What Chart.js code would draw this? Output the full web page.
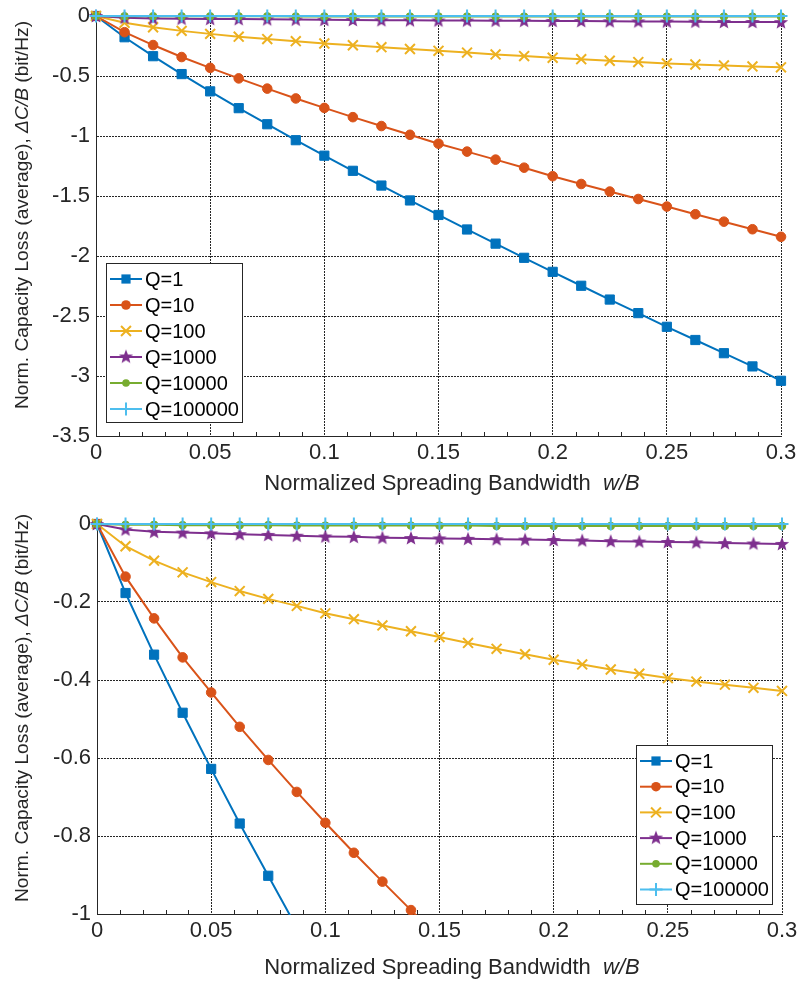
<!DOCTYPE html>
<html>
<head>
<meta charset="utf-8">
<script src="https://cdn.jsdelivr.net/npm/chart.js@4.4.0/dist/chart.umd.min.js"></script>
<style>
  body { margin: 0; background: #fff; }
  .box { position: absolute; left: 0; }
</style>
</head>
<body>
<div class="box" style="top:0;width:798px;height:500px"><canvas id="topChart" width="798" height="500"></canvas></div>
<div class="box" style="top:500px;width:798px;height:483px"><canvas id="bottomChart" width="798" height="483"></canvas></div>
<script>
// Normalized spreading bandwidth w/B
const xValues = [0, 0.0125, 0.025, 0.0375, 0.05, 0.0625, 0.075, 0.0875, 0.1, 0.1125, 0.125, 0.1375,
    0.15, 0.1625, 0.175, 0.1875, 0.2, 0.2125, 0.225, 0.2375, 0.25, 0.2625, 0.275, 0.2875, 0.3];

// Capacity loss per Q
const q1 = [0, -0.177, -0.335, -0.484, -0.628, -0.768, -0.902, -1.035, -1.164, -1.29, -1.413, -1.537,
    -1.658, -1.779, -1.897, -2.015, -2.132, -2.248, -2.363, -2.476, -2.59, -2.70, -2.81, -2.92, -3.04];
const q10 = [0, -0.135, -0.242, -0.342, -0.432, -0.52, -0.605, -0.687, -0.766, -0.843, -0.917, -0.99,
    -1.064, -1.13, -1.197, -1.264, -1.335, -1.4, -1.463, -1.525, -1.588, -1.652, -1.714, -1.777, -1.84];
const q100 = [0, -0.057, -0.094, -0.124, -0.149, -0.172, -0.192, -0.21, -0.229, -0.244, -0.26, -0.275,
    -0.29, -0.305, -0.32, -0.334, -0.348, -0.36, -0.373, -0.384, -0.395, -0.404, -0.412, -0.42, -0.428];
const q1000 = [0, -0.014, -0.02, -0.022, -0.024, -0.026, -0.028, -0.03, -0.032, -0.033, -0.035, -0.036,
    -0.037, -0.038, -0.039, -0.04, -0.041, -0.042, -0.044, -0.045, -0.046, -0.047, -0.049, -0.05, -0.051];
const q10000 = [0, -0.002, -0.002, -0.003, -0.003, -0.003, -0.003, -0.004, -0.004, -0.004, -0.004, -0.004,
    -0.004, -0.004, -0.005, -0.005, -0.005, -0.005, -0.005, -0.005, -0.005, -0.005, -0.005, -0.005, -0.005];
const q100000 = [0, 0, 0, 0, 0, 0, 0, 0, 0, 0, 0, 0,
    0, 0, 0, 0, 0, 0, 0, 0, 0, 0, 0, 0, 0];

const seriesLabels = ['Q=1', 'Q=10', 'Q=100', 'Q=1000', 'Q=10000', 'Q=100000'];
const seriesValues = [q1, q10, q100, q1000, q10000, q100000];

// Tick settings for the two panels
const xTicks = { min: 0, max: 0.3, step: 0.05 };
const topYTicks = { min: -3.5, max: 0, step: 0.5 };
const bottomYTicks = { min: -1, max: 0, step: 0.2 };

const FONT = "'Liberation Sans', Arial, Helvetica, sans-serif";
const TEXT = '#262626';

// MATLAB-like colours and markers
const colors = ['#0072BD', '#D95319', '#EDB120', '#7E2F8E', '#77AC30', '#4DBEEE'];

function makeStar(color) {
    const c = document.createElement('canvas');
    c.width = 16; c.height = 16;
    const g = c.getContext('2d');
    g.beginPath();
    for (let i = 0; i < 10; i++) {
        const r = i % 2 === 0 ? 7.5 : 3.2;
        const a = -Math.PI / 2 + i * Math.PI / 5;
        const px = 8 + r * Math.cos(a), py = 8.5 + r * Math.sin(a);
        if (i === 0) g.moveTo(px, py); else g.lineTo(px, py);
    }
    g.closePath();
    g.fillStyle = color;
    g.fill();
    return c;
}
const starImg = makeStar(colors[3]);

const markers = [
    { style: 'rect', radius: 6.5, width: 1 },
    { style: 'circle', radius: 4.8, width: 1 },
    { style: 'crossRot', radius: 7, width: 2 },
    { style: starImg, radius: 8, width: 1 },
    { style: 'circle', radius: 3.8, width: 1 },
    { style: 'cross', radius: 6.5, width: 2 },
];

// Small helper for legend markers
function drawMarker(ctx, i, x, y) {
    const m = markers[i];
    const col = colors[i];
    ctx.save();
    ctx.fillStyle = col;
    ctx.strokeStyle = col;
    ctx.lineWidth = m.width;
    if (m.style === 'rect') {
        const s = m.radius * Math.SQRT1_2;
        ctx.fillRect(x - s, y - s, 2 * s, 2 * s);
    } else if (m.style === 'circle') {
        ctx.beginPath();
        ctx.arc(x, y, m.radius, 0, Math.PI * 2);
        ctx.fill();
    } else if (m.style === 'crossRot') {
        const s = m.radius * Math.SQRT1_2;
        ctx.beginPath();
        ctx.moveTo(x - s, y - s); ctx.lineTo(x + s, y + s);
        ctx.moveTo(x - s, y + s); ctx.lineTo(x + s, y - s);
        ctx.stroke();
    } else if (m.style === 'cross') {
        const s = m.radius;
        ctx.beginPath();
        ctx.moveTo(x - s, y); ctx.lineTo(x + s, y);
        ctx.moveTo(x, y - s); ctx.lineTo(x, y + s);
        ctx.stroke();
    } else {
        ctx.drawImage(m.style, x - 8, y - 8.5);
    }
    ctx.restore();
}

// Draw text made of plain and italic pieces, centred on (0,0)
function drawRich(ctx, parts, size) {
    let total = 0;
    const widths = parts.map(p => {
        ctx.font = (p.italic ? 'italic ' : '') + size + 'px ' + FONT;
        const w = ctx.measureText(p.text).width;
        total += w;
        return w;
    });
    let cx = -total / 2;
    parts.forEach((p, k) => {
        ctx.font = (p.italic ? 'italic ' : '') + size + 'px ' + FONT;
        ctx.fillText(p.text, cx, 0);
        cx += widths[k];
    });
}

const yTitleParts = [
    { text: 'Norm. Capacity Loss (average), ', italic: false },
    { text: '\u0394C/B', italic: true },
    { text: ' (bit/Hz)', italic: false },
];
const xTitleParts = [
    { text: 'Normalized Spreading Bandwidth  ', italic: false },
    { text: 'w/B', italic: true },
];

const decorPlugin = {
    id: 'decor',
    afterDraw(chart, args, opts) {
        const ctx = chart.ctx;
        const area = chart.chartArea;
        const xs = chart.scales.x;

        // minor ticks on bottom axis
        ctx.save();
        ctx.strokeStyle = TEXT;
        ctx.lineWidth = 1;
        for (let r = 1; r < 30; r++) {
            if (r % 5 === 0) continue;
            const px = Math.round(xs.getPixelForValue(r / 100)) + 0.5;
            ctx.beginPath();
            ctx.moveTo(px, area.bottom);
            ctx.lineTo(px, area.bottom - 4);
            ctx.stroke();
        }
        ctx.restore();

        // axis titles
        ctx.save();
        ctx.fillStyle = TEXT;
        ctx.textBaseline = 'middle';
        ctx.translate(opts.xTitleX, opts.xTitleY);
        drawRich(ctx, xTitleParts, 22);
        ctx.restore();

        ctx.save();
        ctx.fillStyle = TEXT;
        ctx.textBaseline = 'middle';
        ctx.translate(opts.yTitleX, opts.yTitleY);
        ctx.rotate(-Math.PI / 2);
        drawRich(ctx, yTitleParts, 19.2);
        ctx.restore();

        // legend box
        const lg = opts.legend;
        ctx.save();
        ctx.fillStyle = '#fff';
        ctx.fillRect(lg.x, lg.y, lg.w, lg.h);
        ctx.strokeStyle = TEXT;
        ctx.lineWidth = 1;
        ctx.strokeRect(lg.x + 0.5, lg.y + 0.5, lg.w, lg.h);
        ctx.font = '20px ' + FONT;
        ctx.textBaseline = 'middle';
        seriesLabels.forEach((lab, i) => {
            const ry = lg.y + lg.first + i * lg.step;
            ctx.strokeStyle = colors[i];
            ctx.lineWidth = 2;
            ctx.beginPath();
            ctx.moveTo(lg.x + 4, ry);
            ctx.lineTo(lg.x + 36, ry);
            ctx.stroke();
            drawMarker(ctx, i, lg.x + 20, ry);
            ctx.fillStyle = '#000';
            ctx.fillText(lab, lg.x + 39, ry + 1);
        });
        ctx.restore();
    }
};

function fmt(v) {
    return String(parseFloat(Number(v).toFixed(3)));
}

function buildChart(canvasId, yTicks, layout, decor) {
    const datasets = seriesValues.map((vals, i) => ({
        label: seriesLabels[i],
        data: xValues.map((x, k) => ({ x: x, y: vals[k] })),
        borderColor: colors[i],
        backgroundColor: colors[i],
        borderWidth: 2,
        pointStyle: markers[i].style,
        pointRadius: markers[i].radius,
        pointBorderWidth: markers[i].width,
        pointBorderColor: colors[i],
        pointBackgroundColor: colors[i],
        tension: 0,
        order: 6 - i,
        clip: { left: false, top: false, right: false, bottom: 1 },
    }));

    const ctx = document.getElementById(canvasId).getContext('2d');
    return new Chart(ctx, {
        type: 'line',
        data: { datasets: datasets },
        options: {
            responsive: false,
            animation: false,
            events: [],
            layout: { padding: { left: 0, top: layout.top, right: layout.right, bottom: 0 } },
            plugins: {
                legend: { display: false },
                tooltip: { enabled: false },
                decor: decor,
            },
            scales: {
                x: {
                    type: 'linear',
                    min: xTicks.min,
                    max: xTicks.max,
                    afterFit: s => { s.height = layout.xHeight; s.paddingLeft = 0; s.paddingRight = 0; },
                    ticks: {
                        stepSize: xTicks.step,
                        padding: 4,
                        color: TEXT,
                        font: { family: FONT, size: 22 },
                        maxRotation: 0,
                        callback: v => fmt(v),
                    },
                    grid: { color: 'rgba(0,0,0,0.85)', lineWidth: 1, drawTicks: false },
                    border: { display: true, color: TEXT, width: 1, dash: [2, 1] },
                },
                y: {
                    type: 'linear',
                    min: yTicks.min,
                    max: yTicks.max,
                    afterFit: s => { s.width = layout.yWidth; s.paddingTop = 0; s.paddingBottom = 0; },
                    ticks: {
                        stepSize: yTicks.step,
                        padding: 6,
                        color: TEXT,
                        font: { family: FONT, size: 22 },
                        callback: v => fmt(v),
                    },
                    grid: { color: 'rgba(0,0,0,0.85)', lineWidth: 1, drawTicks: false },
                    border: { display: true, color: TEXT, width: 1, dash: [2, 1] },
                },
            },
        },
        plugins: [decorPlugin],
    });
}

buildChart('topChart', topYTicks,
    { top: 16, right: 17, xHeight: 64, yWidth: 96 },
    { xTitleX: 452, xTitleY: 484, yTitleX: 23, yTitleY: 215,
      legend: { x: 106, y: 263, w: 136, h: 159, first: 16, step: 26 } });

buildChart('bottomChart', bottomYTicks,
    { top: 24, right: 16, xHeight: 69, yWidth: 97 },
    { xTitleX: 452, xTitleY: 468, yTitleX: 23, yTitleY: 208,
      legend: { x: 636, y: 245, w: 136, h: 159, first: 16, step: 25.7 } });
</script>
</body>
</html>
